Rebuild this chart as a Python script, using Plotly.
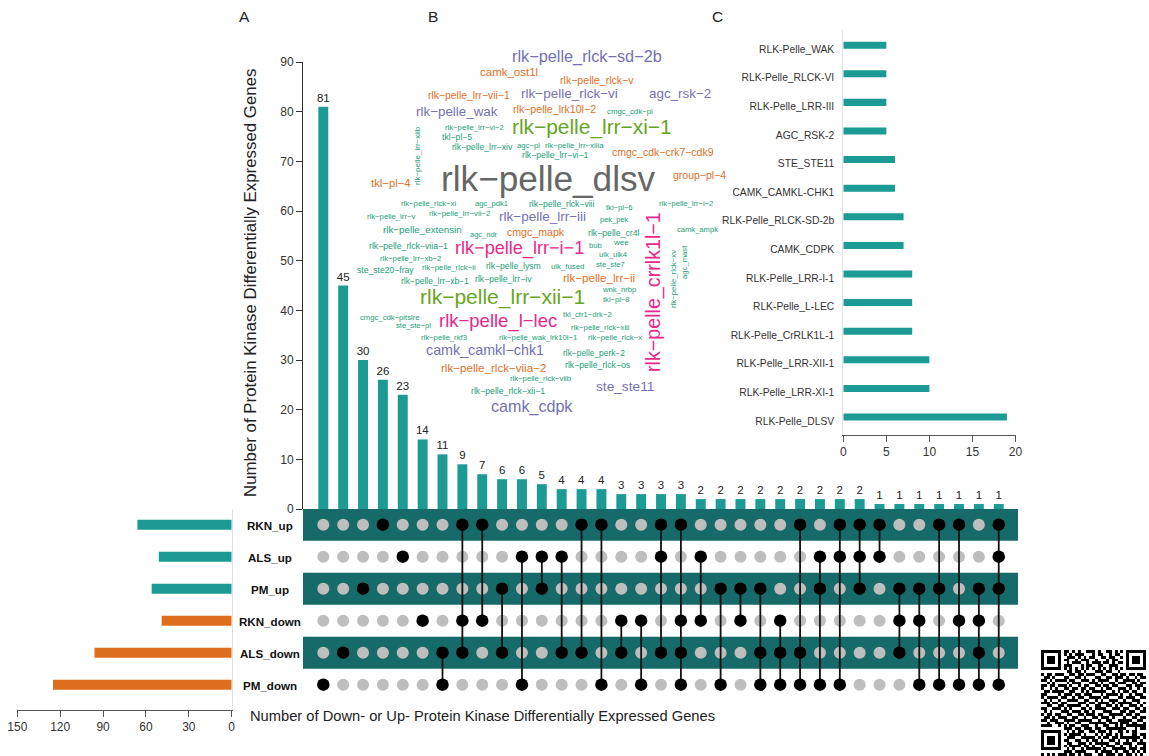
import plotly.graph_objects as go

W, H = 1149, 756
FONT = "Liberation Sans"
TEAL = "#1C9A94"
ORANGE = "#DD6E1D"
BAND = "#176A6A"
INK = "#333333"

# ---------- data ----------
set_names = ["RKN_up", "ALS_up", "PM_up", "RKN_down", "ALS_down", "PM_down"]
set_sizes = [66, 51, 56, 49, 96, 125]
set_colors = [TEAL, TEAL, TEAL, ORANGE, ORANGE, ORANGE]

intersection_sizes = [81, 45, 30, 26, 23, 14, 11, 9, 7, 6, 6, 5, 4, 4, 4, 3, 3, 3, 3,
                      2, 2, 2, 2, 2, 2, 2, 2, 2, 1, 1, 1, 1, 1, 1, 1]
# rows (0-5 = set_names) that each intersection column belongs to
intersection_members = [
    [5], [4], [2], [0], [1], [3], [4, 5], [0, 3, 4], [0, 3], [2, 4], [1, 5], [1, 2],
    [1, 4], [0, 4], [0, 5], [3, 4], [3, 5], [0, 1, 4], [0, 3, 4, 5], [1, 3], [2, 5],
    [2, 3], [2, 4, 5], [3, 4, 5], [0, 4, 5], [1, 2, 5], [0, 1, 5], [0, 1, 2], [0, 1],
    [2, 3, 4], [2, 3, 5], [0, 2, 5], [0, 3, 5], [2, 3, 4, 5], [0, 1, 2, 5],
]

family_names = ["RLK-Pelle_DLSV", "RLK-Pelle_LRR-XI-1", "RLK-Pelle_LRR-XII-1", "RLK-Pelle_CrRLK1L-1",
                "RLK-Pelle_L-LEC", "RLK-Pelle_LRR-I-1", "CAMK_CDPK", "RLK-Pelle_RLCK-SD-2b",
                "CAMK_CAMKL-CHK1", "STE_STE11", "AGC_RSK-2", "RLK-Pelle_LRR-III",
                "RLK-Pelle_RLCK-VI", "RLK-Pelle_WAK"]
family_counts = [19, 10, 10, 8, 8, 8, 7, 7, 6, 6, 5, 5, 5, 5]

# word -> gene count tier (drives the colour)
word_counts = {
    "rlk−pelle_dlsv": 19, "rlk−pelle_lrr−xi−1": 10, "rlk−pelle_lrr−xii−1": 10,
    "rlk−pelle_crrlk1l−1": 8, "rlk−pelle_l−lec": 8, "rlk−pelle_lrr−i−1": 8,
    "camk_cdpk": 7, "rlk−pelle_rlck−sd−2b": 7, "camk_camkl−chk1": 6, "ste_ste11": 6,
    "agc_rsk−2": 5, "rlk−pelle_lrr−iii": 5, "rlk−pelle_rlck−vi": 5, "rlk−pelle_wak": 5,
    "camk_ost1l": 3, "rlk−pelle_rlck−v": 3, "rlk−pelle_lrr−vii−1": 3, "rlk−pelle_lrk10l−2": 3,
    "cmgc_cdk−crk7−cdk9": 3, "group−pl−4": 3, "tkl−pl−4": 3, "cmgc_mapk": 3,
    "rlk−pelle_lrr−ii": 3, "rlk−pelle_rlck−viia−2": 3,
}

# QR code
qr_rows = [
    "1111111 01101 01001 11010 01101 010 1111111",
    "1000001 01010 11100 01011 00101 100 1000001",
    "1011101 00111 01010 11001 10110 010 1011101",
    "1011101 01100 10111 00100 01011 000 1011101",
    "1011101 00101 11001 01110 11010 110 1011101",
    "1000001 01110 00101 10011 00111 000 1000001",
    "1111111 01010 10101 01010 10101 010 1111111",
    "0000000 00110 11010 00111 01100 100 0000000",
    "1011011 10011 01101 11001 10011 011 0110110",
    "0110100 01100 11010 00110 01101 110 1001011",
    "1101011 11011 00111 01011 11001 001 1110100",
    "0010100 00101 11000 11101 00110 111 0011011",
    "1101101 11010 01011 00110 11011 000 1101110",
    "1001010 01101 10110 11001 01100 111 0100101",
    "0110111 10011 00101 01111 10010 101 1011001",
    "1100001 01110 11011 10001 01111 010 0101110",
    "1011110 11001 01100 11110 11000 110 1110011",
    "0101001 00111 10011 00101 00111 001 0011100",
    "1110110 11000 01110 11011 11010 111 1100101",
    "0011001 10111 11001 00110 01101 010 0111010",
    "1100111 01010 00110 10111 10011 101 1001101",
    "0101000 11101 11011 01000 11100 011 0110011",
    "1011011 00110 01101 11011 00111 110 1101100",
    "0110101 11001 10010 01101 11010 001 0011011",
    "1101110 01111 01111 10010 01100 111 1100110",
    "0010011 10100 11000 11111 10111 011 1011001",
    "1111001 01011 00111 00100 11001 010 1111111",
    "0000000 01110 11011 10110 01111 111 0001011",
    "1111111 00101 01100 11011 10100 110 1011000",
    "1000001 01011 11010 00101 01101 010 0011011",
    "1011101 00111 00111 11010 11011 011 1111101",
    "1011101 01100 11001 01101 00110 100 1011010",
    "1011101 00110 01110 10111 11001 101 1100111",
    "1000001 01011 11011 01001 01110 010 0101001",
    "1111111 00101 00101 11110 10011 111 0111011",
    "0000000 01110 11110 00101 11101 001 1010101",
    "1010101 11011 01011 10011 01110 110 1101010",
]

# ---------- layout helpers (pixel -> paper) ----------
def fx(px):
    return px / W

def fy(py):
    return 1 - py / H

word_colors = {19: "#666666", 10: "#66A61E", 8: "#E7298A", 7: "#7570B3", 6: "#7570B3",
               5: "#7570B3", 3: "#E0701F", 1: "#1B9E77"}

# word -> x px, y px, font px, rotation
word_boxes = {
    "rlk−pelle_rlck−sd−2b": (587, 57, 16.3, 0), "camk_ost1l": (509, 72, 11.5, 0),
    "rlk−pelle_rlck−v": (597, 80, 10.6, 0), "rlk−pelle_lrr−vii−1": (469, 95, 10.4, 0),
    "rlk−pelle_rlck−vi": (569, 93, 13.5, 0), "agc_rsk−2": (680, 93, 13.4, 0),
    "rlk−pelle_wak": (457, 111, 13.4, 0), "rlk−pelle_lrk10l−2": (554, 109, 10.6, 0),
    "cmgc_cdk−pl": (630, 111, 7.8, 0), "rlk−pelle_lrr−xi−1": (592, 127, 20.9, 0),
    "rlk−pelle_lrr−vi−2": (474, 127, 7.7, 0), "tkl−pl−5": (457, 137, 8.6, 0),
    "rlk−pelle_lrr−xiv": (482, 147, 8.6, 0), "agc−pl": (528, 145, 7.7, 0),
    "rlk−pelle_lrr−xiiia": (574, 145, 7.8, 0), "rlk−pelle_lrr−vi−1": (555, 155, 8.7, 0),
    "cmgc_cdk−crk7−cdk9": (663, 152, 10.5, 0), "rlk−pelle_lrr−xiib": (418, 156, 8.0, -90),
    "rlk−pelle_dlsv": (548, 178, 35.2, 0), "group−pl−4": (699, 175, 10.5, 0),
    "tkl−pl−4": (391, 183, 11.3, 0), "rlk−pelle_rlck−xi": (428, 203, 7.7, 0),
    "agc_pdk1": (491, 203, 7.6, 0), "rlk−pelle_rlck−viii": (562, 204, 8.6, 0),
    "tkl−pl−6": (619, 207, 7.6, 0), "rlk−pelle_lrr−i−2": (686, 203, 7.6, 0),
    "rlk−pelle_lrr−v": (391, 217, 7.7, 0), "rlk−pelle_lrr−vii−2": (459, 214, 7.8, 0),
    "rlk−pelle_lrr−iii": (542, 217, 13.5, 0), "pek_pek": (614, 219, 7.5, 0),
    "rlk−pelle_extensin": (422, 230, 9.8, 0), "agc_ndr": (484, 234, 7.5, 0),
    "cmgc_mapk": (536, 232, 10.6, 0), "rlk−pelle_cr4l": (613, 233, 8.7, 0),
    "camk_ampk": (697, 230, 7.6, 0), "rlk−pelle_rlck−viia−1": (408, 246, 8.7, 0),
    "rlk−pelle_lrr−i−1": (519, 248, 18.1, 0), "bub": (595, 246, 7.7, 0),
    "wee": (621, 242, 8, 0), "ulk_ulk4": (613, 254, 7.6, 0),
    "rlk−pelle_lrr−xb−2": (410, 258, 7.7, 0), "ste_ste20−fray": (385, 270, 8.6, 0),
    "rlk−pelle_rlck−ii": (449, 267, 7.8, 0), "rlk−pelle_lysm": (513, 266, 8.6, 0),
    "ulk_fused": (567, 266, 7.8, 0), "ste_ste7": (610, 265, 7.6, 0),
    "rlk−pelle_lrr−xb−1": (435, 281, 8.5, 0), "rlk−pelle_lrr−iv": (503, 279, 8.7, 0),
    "rlk−pelle_lrr−ii": (599, 278, 11.6, 0), "wnk_nrbp": (619, 289, 7.7, 0),
    "tkl−pl−8": (616, 300, 7.6, 0), "rlk−pelle_lrr−xii−1": (502, 297, 21, 0),
    "cmgc_cdk−pitslre": (390, 317, 7.7, 0), "ste_ste−pl": (413, 326, 7.6, 0),
    "rlk−pelle_l−lec": (498, 321, 18.5, 0), "tkl_ctr1−drk−2": (587, 314, 7.7, 0),
    "rlk−pelle_rlck−xiii": (600, 327, 7.7, 0), "rlk−pelle_rkf3": (444, 337, 7.7, 0),
    "rlk−pelle_wak_lrk10l−1": (538, 337, 7.7, 0), "rlk−pelle_rlck−x": (615, 337, 7.8, 0),
    "camk_camkl−chk1": (485, 350, 14.3, 0), "rlk−pelle_perk−2": (594, 353, 8.4, 0),
    "rlk−pelle_rlck−viia−2": (493, 367, 11.6, 0), "rlk−pelle_rlck−os": (598, 365, 8.7, 0),
    "rlk−pelle_rlck−viib": (540, 379, 7.7, 0), "ste_ste11": (625, 387, 13.7, 0),
    "rlk−pelle_rlck−xii−1": (508, 391, 8.7, 0), "camk_cdpk": (532, 406, 16.1, 0),
    "rlk−pelle_crrlk1l−1": (653, 292, 19.7, -90), "rlk−pelle_rlck−xv": (673, 279, 7.8, -90),
    "agc_mast": (685, 262, 7.7, -90),
}

fig = go.Figure()
n_cols = len(intersection_sizes)
cols = list(range(n_cols))

# intersection bars
fig.add_trace(go.Bar(x=cols, y=intersection_sizes, width=0.5, marker_color=TEAL, marker_line_width=0,
                     text=intersection_sizes, textposition="outside", cliponaxis=False,
                     constraintext="none", textangle=0,
                     textfont=dict(size=11.5, color="#222222", family=FONT),
                     xaxis="x", yaxis="y", showlegend=False))

# matrix: empty dots
gx, gy, lx, ly, bx, by = [], [], [], [], [], []
for c, rows in zip(cols, intersection_members):
    for r in range(len(set_names)):
        if r in rows:
            bx.append(c); by.append(r)
        else:
            gx.append(c); gy.append(r)
    if len(rows) > 1:
        lx += [c, c, None]
        ly += [min(rows), max(rows), None]
fig.add_trace(go.Scatter(x=gx, y=gy, mode="markers", marker=dict(size=12, color="#BEBEBE"),
                         xaxis="x2", yaxis="y2", showlegend=False))
fig.add_trace(go.Scatter(x=lx, y=ly, mode="lines", line=dict(color="#111111", width=1.8),
                         xaxis="x2", yaxis="y2", showlegend=False))
fig.add_trace(go.Scatter(x=bx, y=by, mode="markers", marker=dict(size=12.5, color="#000000"),
                         xaxis="x2", yaxis="y2", showlegend=False))

# set size bars
fig.add_trace(go.Bar(x=set_sizes, y=list(range(6)), orientation="h", width=0.31,
                     marker_color=set_colors, marker_line_width=0,
                     xaxis="x3", yaxis="y3", showlegend=False))

# panel C
fig.add_trace(go.Bar(x=family_counts, y=family_names, orientation="h", width=0.245, offset=0.017,
                     marker_color=TEAL, marker_line_width=0,
                     xaxis="x4", yaxis="y4", showlegend=False))

# QR code
fig.add_trace(go.Heatmap(z=[[int(c) for c in row.replace(" ", "")] for row in qr_rows],
                         colorscale=[[0, "#FFFFFF"], [1, "#000000"]], showscale=False, hoverinfo="skip",
                         xaxis="x5", yaxis="y5"))

x_range = [-1.022, 34.97]
bar_domain_x = [fx(303), fx(1018)]
tickfont = dict(size=12, color=INK, family=FONT)

fig.update_layout(
    width=W, height=H, margin=dict(l=0, r=0, t=0, b=0, autoexpand=False),
    paper_bgcolor="white", plot_bgcolor="white", font=dict(family=FONT, color=INK), barmode="overlay",
    xaxis=dict(domain=bar_domain_x, range=x_range, visible=False, anchor="y"),
    yaxis=dict(domain=[fy(509), fy(62)], range=[0, 90], tick0=0, dtick=10, anchor="x", side="left",
               showgrid=False, zeroline=False, showline=True, linecolor="#333333", linewidth=1,
               ticks="outside", ticklen=6, tickcolor="#333333", tickfont=tickfont),
    xaxis2=dict(domain=bar_domain_x, range=x_range, visible=False, anchor="y2"),
    yaxis2=dict(domain=[fy(700), fy(509)], range=[5.48, -0.49], visible=False, anchor="x2"),
    xaxis3=dict(domain=[fx(17.3), fx(231.7)], range=[150, 0], anchor="y3", tickvals=[150, 120, 90, 60, 30, 0],
                showgrid=False, zeroline=False, showline=True, linecolor="#555555", linewidth=1,
                ticks="outside", ticklen=6, tickcolor="#555555", tickfont=tickfont),
    yaxis3=dict(domain=[fy(710), fy(509)], range=[5.79, -0.49], anchor="x3", side="right", showticklabels=False,
                ticks="", showgrid=False, zeroline=False, showline=True, linecolor="#E2E2E2", linewidth=1),
    xaxis4=dict(domain=[fx(843.3), fx(1015.5)], range=[0, 20], anchor="y4", tickvals=[0, 5, 10, 15, 20],
                showgrid=False, zeroline=False, showline=True, linecolor="#555555", linewidth=1,
                ticks="outside", ticklen=6, tickcolor="#555555", tickfont=tickfont),
    yaxis4=dict(domain=[fy(435), fy(30)], range=[-0.49, 13.67], anchor="x4", type="category",
                categoryorder="array", categoryarray=family_names, ticks="", showgrid=False, zeroline=False,
                showline=True, linecolor="#E2E2E2", linewidth=1, ticklabelstandoff=6,
                tickfont=dict(size=10.3, color=INK, family=FONT)),
    xaxis5=dict(domain=[fx(1041), fx(1146)], visible=False, anchor="y5"),
    yaxis5=dict(domain=[fy(756), fy(650)], visible=False, anchor="x5", autorange="reversed"),
)

# alternating bands behind the matrix
for r in (0, 2, 4):
    fig.add_shape(type="rect", xref="x2 domain", yref="y2", x0=0, x1=1, y0=r - 0.5, y1=r + 0.5,
                  fillcolor=BAND, line_width=0, layer="below")

ann = []
for r, name in enumerate(set_names):
    ann.append(dict(x=fx(270), xref="paper", y=r, yref="y2", yshift=-1, text=f"<b>{name}</b>", showarrow=False,
                    xanchor="center", yanchor="middle", font=dict(size=11.6, color="#111111", family=FONT)))
for label, px in zip("ABC", (244, 433, 717)):
    ann.append(dict(x=fx(px), xref="paper", y=fy(16), yref="paper", text=label, showarrow=False,
                    xanchor="center", yanchor="middle", font=dict(size=15.5, color="#222222", family=FONT)))
ann.append(dict(x=fx(250), xref="paper", y=fy(283), yref="paper", text="Number of Protein Kinase Differentially Expressed Genes",
                textangle=-90, showarrow=False, xanchor="center", yanchor="middle",
                font=dict(size=16.85, color="#222222", family=FONT)))
ann.append(dict(x=fx(482), xref="paper", y=fy(716), yref="paper", text="Number of Down- or Up- Protein Kinase Differentially Expressed Genes",
                showarrow=False, xanchor="center", yanchor="middle",
                font=dict(size=14.7, color="#222222", family=FONT)))
for word, (px, py, size, rot) in word_boxes.items():
    tier = word_counts.get(word, 1)
    ann.append(dict(x=fx(px), xref="paper", y=fy(py), yref="paper", text=word, textangle=rot, showarrow=False,
                    xanchor="center", yanchor="middle", font=dict(size=size, color=word_colors[tier], family=FONT)))
fig.update_layout(annotations=ann)

fig.write_html("out.html", config={"displayModeBar": False},
               post_script="document.body.style.margin='0';document.body.style.overflow='hidden';")
